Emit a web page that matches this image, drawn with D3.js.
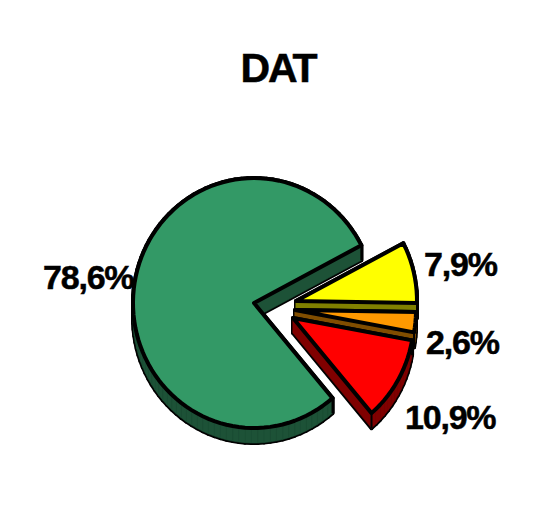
<!DOCTYPE html>
<html>
<head>
<meta charset="utf-8">
<script src="https://cdn.jsdelivr.net/npm/d3@7"></script>
<style>
html,body{margin:0;padding:0;background:#fff}
svg{display:block}
text{font-family:"Liberation Sans",Arial,sans-serif;font-weight:bold;fill:#000;stroke:#000;stroke-width:.5px}
</style>
</head>
<body>
<svg id="c" width="545" height="526"></svg>
<script>
const title = "DAT";
const categories = ["A", "B", "C", "D"];
const shares = [7.9, 2.6, 10.9, 78.6];
const labels = ["7,9%", "2,6%", "10,9%", "78,6%"];

const topColors = ["#ffff00", "#ff9900", "#ff0000", "#339966"];
const wallColors = ["#808000", "#804d00", "#800000", "#1d5237"];

const W = 545, H = 526;
const svg = d3.select("#c").attr("viewBox", [0, 0, W, H]);

const cx = 254, cy = 303, rx = 121, ry = 125, depth = 15;
const explode = [[42, -2], [41, 7], [39, 15], [0, 0]];
const labelPos = [[424, 276], [426, 354], [405, 429], [43, 289]];

const toRad = d => d * Math.PI / 180;
const pie = d3.pie().sort(null).value(d => d)
  .startAngle(toRad(62.5)).endAngle(toRad(62.5 + 360));
const arcs = pie(shares);

const xScale = d3.scaleLinear().domain([-1, 1]).range([-rx, rx]);
const yScale = d3.scaleLinear().domain([-1, 1]).range([-ry, ry]);

function slicePoints(a, i) {
  const [dx, dy] = explode[i];
  const n = Math.ceil((a.endAngle - a.startAngle) / toRad(3));
  const pts = [[cx + dx, cy + dy]];
  d3.range(n + 1).forEach(k => {
    const t = a.startAngle + (a.endAngle - a.startAngle) * k / n;
    pts.push([cx + dx + xScale(Math.sin(t)), cy + dy + yScale(-Math.cos(t))]);
  });
  return pts;
}

const line = d3.line().curve(d3.curveLinearClosed);
const order = [3, 0, 1, 2];
const stroke = 4;

order.forEach(i => {
  const pts = slicePoints(arcs[i], i);
  const g = svg.append("g").attr("data-cat", categories[i]);
  const quads = pts.map((p, k) => {
    const q = pts[(k + 1) % pts.length];
    return [p, q, [q[0], q[1] + depth], [p[0], p[1] + depth]];
  });
  g.selectAll("path.o").data(quads).join("path").attr("class", "o")
    .attr("d", line).attr("fill", "#000").attr("stroke", "#000")
    .attr("stroke-width", stroke).attr("stroke-linejoin", "round");
  g.selectAll("path.w").data(quads).join("path").attr("class", "w")
    .attr("d", line).attr("fill", wallColors[i]).attr("stroke", wallColors[i])
    .attr("stroke-width", 0.6);
  const corner = pts[1];
  const corner2 = pts[pts.length - 1];
  [corner, corner2].forEach(p => {
    if (p[1] > cy - 70 + 0) {
      g.append("line").attr("x1", p[0]).attr("y1", p[1]).attr("x2", p[0]).attr("y2", p[1] + depth)
        .attr("stroke", "#000").attr("stroke-width", 2);
    }
  });
  g.append("path").attr("d", line(pts)).attr("fill", topColors[i])
    .attr("stroke", "#000").attr("stroke-width", stroke).attr("stroke-linejoin", "round");
});

svg.append("text").attr("x", 278).attr("y", 82).attr("text-anchor", "middle")
  .attr("font-size", 41).attr("letter-spacing", -2).text(title);

svg.selectAll("text.l").data(labels).join("text").attr("class", "l")
  .attr("x", (d, i) => labelPos[i][0]).attr("y", (d, i) => labelPos[i][1])
  .attr("font-size", 34).attr("letter-spacing", -1.2).text(d => d);
</script>
</body>
</html>
